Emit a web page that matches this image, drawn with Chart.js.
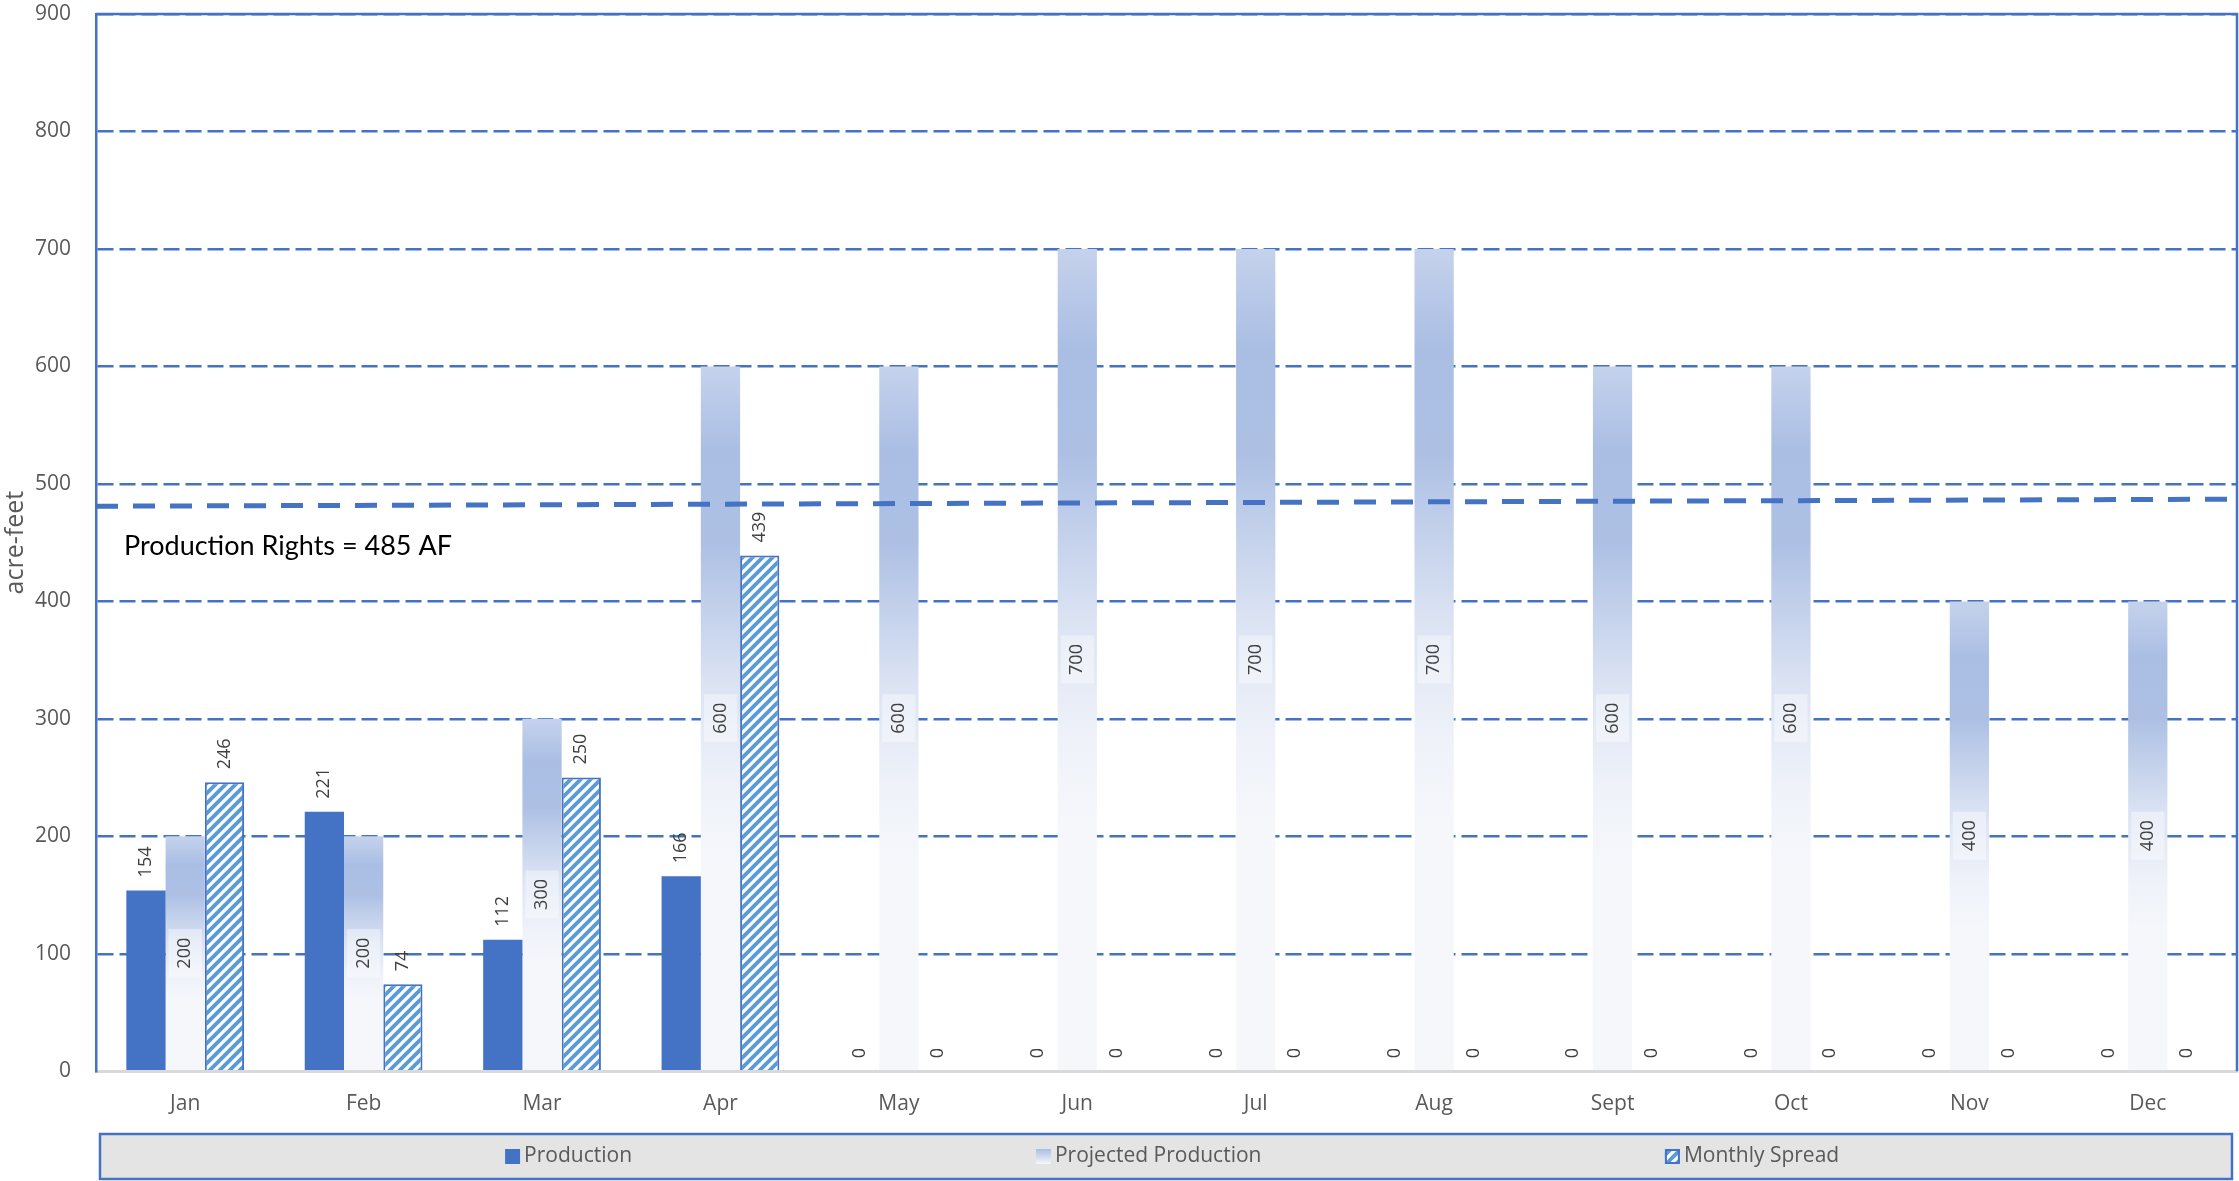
<!DOCTYPE html>
<html>
<head>
<meta charset="utf-8">
<script src="https://cdn.jsdelivr.net/npm/chart.js@4.4.1/dist/chart.umd.min.js"></script>
<style>
  html, body { margin: 0; padding: 0; background: #fff; }
  #wrap { width: 2239px; height: 1181px; position: relative; }
</style>
</head>
<body>
<div id="wrap"><canvas id="chart"></canvas></div>
<script>
const months = ["Jan", "Feb", "Mar", "Apr", "May", "Jun", "Jul", "Aug", "Sept", "Oct", "Nov", "Dec"];
const production = [154, 221, 112, 166, 0, 0, 0, 0, 0, 0, 0, 0];
const projected = [200, 200, 300, 600, 600, 700, 700, 700, 600, 600, 400, 400];
const spread = [246, 74, 250, 439, 0, 0, 0, 0, 0, 0, 0, 0];
// the rights line is drawn slightly tilted in the original, left end to right end
const rightsLine = [481, 487];
const rightsNote = "Production Rights = 485 AF";
const rightsNoteAt = 447;
const seriesNames = ["Production", "Projected Production", "Monthly Spread"];

const BLUE = "#4472c4";
const STRIPE = "#5b9bd5";
const AXIS_TEXT = "#595959";
const LABEL_TEXT = "#404040";

Chart.defaults.font.family = '"Open Sans", sans-serif';

// diagonal hatch used by the monthly spread bars
const hatch = (() => {
    const c = document.createElement("canvas");
    c.width = 10;
    c.height = 10;
    const g = c.getContext("2d");
    g.fillStyle = "#fff";
    g.fillRect(0, 0, 10, 10);
    g.strokeStyle = STRIPE;
    g.lineWidth = 3.8;
    g.beginPath();
    g.moveTo(-5, 5); g.lineTo(5, -5);
    g.moveTo(0, 10); g.lineTo(10, 0);
    g.moveTo(5, 15); g.lineTo(15, 5);
    g.stroke();
    return g.createPattern(c, "repeat");
})();

const fadeStops = [
    [0, "#c5d2ec"],
    [0.12, "#aabee4"],
    [0.25, "#adc0e4"],
    [0.45, "#dbe3f3"],
    [0.6, "#eff2f9"],
    [0.7, "#f5f7fb"],
    [1, "#f5f7fb"],
];

const projectedFill = (ctx) => {
    const chart = ctx.chart;
    if (!chart.chartArea || ctx.type !== "data") return "#c5d2ec";
    const y = chart.scales.y;
    const top = y.getPixelForValue(ctx.raw);
    const base = y.getPixelForValue(0);
    const g = chart.ctx.createLinearGradient(0, top, 0, base);
    fadeStops.forEach(([p, col]) => g.addColorStop(p, col));
    return g;
};

const plotFrame = {
    id: "plotFrame",
    beforeDatasetsDraw(chart) {
        const c = chart.ctx;
        const a = chart.chartArea;
        c.save();
        c.strokeStyle = BLUE;
        c.lineWidth = 2.5;
        c.beginPath();
        c.moveTo(a.left, a.top);
        c.lineTo(a.right, a.top);
        c.lineTo(a.right, a.bottom);
        c.stroke();
        c.restore();
    },
};

const rightsMark = {
    id: "rightsMark",
    afterDatasetsDraw(chart) {
        const c = chart.ctx;
        const a = chart.chartArea;
        const y = chart.scales.y;
        c.save();
        c.strokeStyle = BLUE;
        c.lineWidth = 5;
        c.setLineDash([22, 15]);
        c.beginPath();
        c.moveTo(a.left, y.getPixelForValue(rightsLine[0]));
        c.lineTo(a.right, y.getPixelForValue(rightsLine[1]));
        c.stroke();
        c.setLineDash([]);
        c.font = '27px Lato';
        c.fillStyle = "#000";
        c.textBaseline = "middle";
        c.fillText(rightsNote, a.left + 28, y.getPixelForValue(rightsNoteAt));
        c.restore();
    },
};

const valueLabels = {
    id: "valueLabels",
    afterDatasetsDraw(chart) {
        const c = chart.ctx;
        c.save();
        c.font = '18px "Open Sans"';
        [0, 1, 2].forEach((di) => {
            const meta = chart.getDatasetMeta(di);
            const vals = chart.data.datasets[di].data;
            meta.data.forEach((bar, i) => {
                const txt = String(vals[i]);
                c.save();
                if (di === 1) {
                    const cy = (bar.y + bar.base) / 2;
                    c.fillStyle = "rgba(255,255,255,0.4)";
                    c.fillRect(bar.x - bar.width / 2 + 3, cy - 24, bar.width - 6, 48);
                    c.translate(bar.x, cy);
                    c.textAlign = "center";
                } else {
                    c.translate(bar.x, bar.y - 13);
                    c.textAlign = "left";
                }
                c.rotate(-Math.PI / 2);
                c.textBaseline = "middle";
                c.fillStyle = LABEL_TEXT;
                c.fillText(txt, 0, 0);
                c.restore();
            });
        });
        c.restore();
    },
};

const boxLegend = {
    id: "boxLegend",
    afterDraw(chart) {
        const c = chart.ctx;
        const a = chart.chartArea;
        const left = a.left + 4, right = a.right - 5;
        const top = chart.height - 47, bottom = chart.height - 2;
        const cy = (top + bottom) / 2;
        c.save();
        c.fillStyle = "#e4e4e4";
        c.fillRect(left, top, right - left, bottom - top);
        c.strokeStyle = BLUE;
        c.lineWidth = 2.5;
        c.strokeRect(left, top, right - left, bottom - top);

        const slots = [0.19, 0.439, 0.734];
        c.font = '21px "Open Sans"';
        c.textBaseline = "middle";
        seriesNames.forEach((name, i) => {
            const x = left + slots[i] * (right - left);
            const s = 15;
            if (i === 0) {
                c.fillStyle = BLUE;
                c.fillRect(x, cy - s / 2, s, s);
            } else if (i === 1) {
                const g = c.createLinearGradient(0, cy - s / 2, 0, cy + s / 2);
                g.addColorStop(0, "#a9bde4");
                g.addColorStop(1, "#f5f7fb");
                c.fillStyle = g;
                c.fillRect(x, cy - s / 2, s, s);
            } else {
                c.fillStyle = hatch;
                c.fillRect(x, cy - s / 2, s, s);
                c.strokeStyle = BLUE;
                c.lineWidth = 2;
                c.strokeRect(x + 1, cy - s / 2 + 1, s - 2, s - 2);
            }
            c.fillStyle = AXIS_TEXT;
            c.fillText(name, x + s + 4, cy);
        });
        c.restore();
    },
};

new Chart(document.getElementById("chart"), {
    type: "bar",
    data: {
        labels: months,
        datasets: [
            { label: seriesNames[0], data: production, backgroundColor: BLUE },
            { label: seriesNames[1], data: projected, backgroundColor: projectedFill },
            {
                label: seriesNames[2],
                data: spread,
                backgroundColor: hatch,
                borderColor: BLUE,
                borderWidth: (ctx) => (ctx.raw ? 2 : 0),
            },
        ],
    },
    options: {
        responsive: true,
        maintainAspectRatio: false,
        animation: false,
        devicePixelRatio: 1,
        layout: { padding: { top: 14, right: 2, bottom: 44.5, left: 0 } },
        datasets: { bar: { categoryPercentage: 0.66, barPercentage: 1 } },
        plugins: { legend: { display: false }, tooltip: { enabled: false } },
        scales: {
            x: {
                grid: { display: false, drawTicks: false },
                border: { color: "#d9d9d9", width: 3 },
                ticks: { color: AXIS_TEXT, font: { size: 21 }, padding: 20 },
            },
            y: {
                min: 0,
                max: 900,
                ticks: { stepSize: 100, color: AXIS_TEXT, font: { size: 21 }, padding: 0 },
                grid: {
                    drawTicks: true,
                    tickLength: 25,
                    tickColor: "rgba(0,0,0,0)",
                    lineWidth: 2.5,
                    color: (ctx) => (ctx.tick && ctx.tick.value === 0 ? "rgba(0,0,0,0)" : BLUE),
                },
                border: { color: BLUE, width: 2.5, dash: [16, 6] },
                title: { display: true, text: "acre-feet", color: AXIS_TEXT, font: { size: 25 }, padding: { top: 1, bottom: 0 } },
                afterFit: (axis) => { axis.width = 96; },
            },
        },
    },
    plugins: [plotFrame, rightsMark, valueLabels, boxLegend],
});
</script>
</body>
</html>
